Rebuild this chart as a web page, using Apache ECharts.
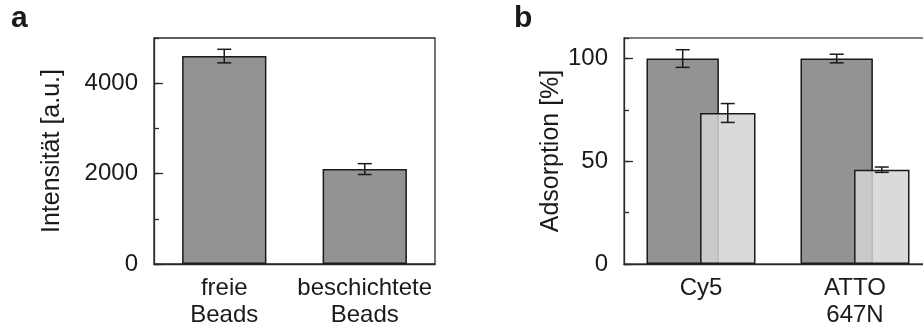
<!DOCTYPE html>
<html>
<head>
<meta charset="utf-8">
<script src="https://cdn.jsdelivr.net/npm/echarts@6/dist/echarts.min.js"></script>
<style>
  html, body { margin: 0; padding: 0; background: #fff; overflow: hidden; }
  /* wider than the window: panel b runs off the right edge as in the figure */
  #chart { width: 945px; height: 329px; }
</style>
</head>
<body>
<div id="chart"></div>
<script>
// panel a: intensity of free vs coated beads
const beadCategories = ['freie\nBeads', 'beschichtete\nBeads'];
const beadIntensity = [4600, 2100];
const beadIntensityErr = [150, 120];
const intensityTicks = [0, 5000, 2000, 1000]; // min, max, major, minor

// panel b: adsorption per dye
const dyeCategories = ['Cy5', 'ATTO\n647N'];
const dyeFree = [100, 100];
const dyeFreeErr = [4.3, 2.1];
const dyeCoated = [73.5, 45.9];
const dyeCoatedErr = [4.6, 1.3];
const adsorptionTicks = [0, 110, 50, 25];

const FONT = '"Liberation Sans", Arial, sans-serif';
const INK = '#1a1a1a';
const DARK_W = 0.47, LIGHT_W = 0.36, GAP = -0.26;
const total = DARK_W * (1 + GAP) + LIGHT_W;
const darkShift = -total / 2 + DARK_W / 2;
const lightShift = -total / 2 + DARK_W * (1 + GAP) + LIGHT_W / 2;

const chart = echarts.init(document.getElementById('chart'), null, { renderer: 'canvas' });

function errorBars(shift) {
  return (params, api) => {
    const i = api.value(0);
    const v = api.value(1);
    const e = api.value(2);
    const band = api.size([1, 0])[0];
    const x = api.coord([i, 0])[0] + band * shift;
    const top = api.coord([i, v + e])[1];
    const bot = api.coord([i, v - e])[1];
    const cap = 7;
    const style = { stroke: INK, lineWidth: 1.5 };
    return {
      type: 'group',
      children: [
        { type: 'line', shape: { x1: x, y1: top, x2: x, y2: bot }, style },
        { type: 'line', shape: { x1: x - cap, y1: top, x2: x + cap, y2: top }, style },
        { type: 'line', shape: { x1: x - cap, y1: bot, x2: x + cap, y2: bot }, style },
      ],
    };
  };
}

function valueAxes(gridIndex, ticks, name, nameGap) {
  const [min, max, major, minor] = ticks;
  return [
    {
      type: 'value', gridIndex, position: 'left', min, max, interval: major,
      name, nameLocation: 'middle', nameGap,
      nameTextStyle: { fontSize: 25, color: INK, fontFamily: FONT },
      axisLine: { show: true, lineStyle: { color: '#2a2a2a', width: 1.3 } },
      axisTick: { show: true, inside: true, length: 9, lineStyle: { color: '#2a2a2a', width: 1.3 } },
      axisLabel: {
        fontSize: 24, color: INK, fontFamily: FONT, margin: 16, showMaxLabel: false,
        formatter: v => String(v),
      },
      splitLine: { show: false },
    },
    {
      type: 'value', gridIndex, position: 'left', min, max, interval: minor,
      axisLine: { show: false },
      axisTick: { show: true, inside: true, length: 5, lineStyle: { color: '#2a2a2a', width: 1.3 } },
      axisLabel: { show: false },
      splitLine: { show: false },
    },
  ];
}

function categoryAxis(gridIndex, data) {
  return {
    type: 'category', gridIndex, data,
    axisLine: { show: true, lineStyle: { color: '#2a2a2a', width: 1.3 } },
    axisTick: { show: false },
    axisLabel: { fontSize: 24, lineHeight: 27, color: INK, fontFamily: FONT, margin: 11, interval: 0 },
  };
}

const barBorder = { borderColor: INK, borderWidth: 1.5 };

const option = {
  animation: false,
  backgroundColor: '#fff',
  graphic: [
    { type: 'text', left: 11, top: 4, style: { text: 'a', font: 'bold 30px ' + FONT, fill: INK } },
    { type: 'text', left: 514, top: 4, style: { text: 'b', font: 'bold 30px ' + FONT, fill: INK } },
  ],
  grid: [
    { left: 154, top: 38, width: 281, height: 229, show: true, borderColor: '#2a2a2a', borderWidth: 1.3, backgroundColor: 'transparent' },
    { left: 624, top: 38, width: 308, height: 229, show: true, borderColor: '#555', borderWidth: 1.3, backgroundColor: 'transparent' },
  ],
  xAxis: [categoryAxis(0, beadCategories), categoryAxis(1, dyeCategories)],
  yAxis: [
    ...valueAxes(0, intensityTicks, 'Intensität [a.u.]', 89),
    ...valueAxes(1, adsorptionTicks, 'Adsorption [%]', 60),
  ],
  series: [
    {
      type: 'bar', xAxisIndex: 0, yAxisIndex: 0, barWidth: '60%',
      data: beadIntensity,
      itemStyle: { color: '#939393', ...barBorder },
    },
    {
      type: 'custom', xAxisIndex: 0, yAxisIndex: 0, z: 5,
      renderItem: errorBars(0),
      data: beadIntensity.map((v, i) => [i, v, beadIntensityErr[i]]),
    },
    {
      type: 'bar', xAxisIndex: 1, yAxisIndex: 2, barWidth: DARK_W * 100 + '%', barGap: GAP * 100 + '%',
      data: dyeFree,
      itemStyle: { color: '#939393', ...barBorder },
    },
    {
      type: 'bar', xAxisIndex: 1, yAxisIndex: 2, barWidth: LIGHT_W * 100 + '%', barGap: GAP * 100 + '%',
      data: dyeCoated,
      itemStyle: { color: 'rgba(211,212,214,0.85)', ...barBorder },
    },
    {
      type: 'custom', xAxisIndex: 1, yAxisIndex: 2, z: 5,
      renderItem: errorBars(darkShift),
      data: dyeFree.map((v, i) => [i, v, dyeFreeErr[i]]),
    },
    {
      type: 'custom', xAxisIndex: 1, yAxisIndex: 2, z: 5,
      renderItem: errorBars(lightShift),
      data: dyeCoated.map((v, i) => [i, v, dyeCoatedErr[i]]),
    },
  ],
};

chart.setOption(option);
</script>
</body>
</html>
